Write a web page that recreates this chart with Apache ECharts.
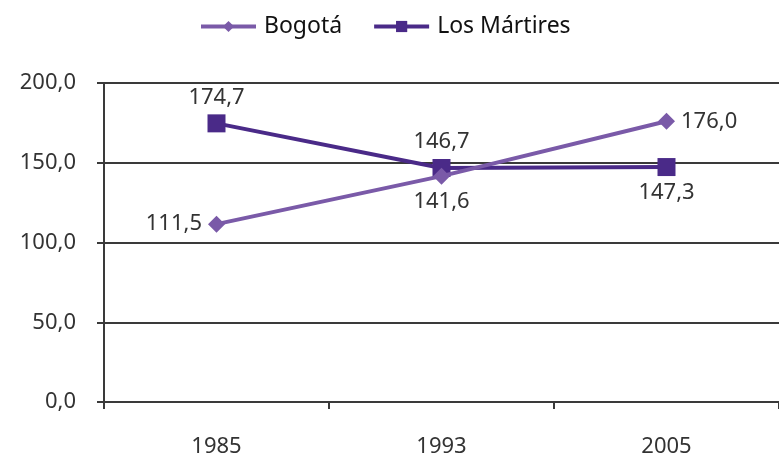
<!DOCTYPE html>
<html><head><meta charset="utf-8">
<script src="https://cdn.jsdelivr.net/npm/echarts@6/dist/echarts.min.js"></script>
<style>html,body{margin:0;padding:0;background:#fff}#c{width:779px;height:461px}</style>
</head><body><div id="c"></div>
<script>
const categories = ['1985', '1993', '2005'];
const bogota = [111.5, 141.6, 176.0];
const martires = [174.7, 146.7, 147.3];
const bogotaLabelPos = ['left', 'bottom', 'right'];
const martiresLabelPos = ['top', 'top', 'bottom'];
const yTicks = [0, 50, 100, 150, 200];

const fmt = v => v.toFixed(1).replace('.', ',');
const font = 'Noto Sans';
const chart = echarts.init(document.getElementById('c'));
chart.setOption({
  backgroundColor: '#fff',
  animation: false,
  legend: {
    top: 10, left: 194, itemWidth: 55, itemHeight: 14, itemGap: 30,
    textStyle: {fontFamily: font, fontSize: 23, color: '#111', padding: [0, 0, 0, 3]},
    lineStyle: {width: 4},
    data: ['Bogotá', 'Los Mártires']
  },
  grid: {left: 104, top: 83, width: 678, height: 319},
  xAxis: {
    type: 'category', data: categories, boundaryGap: true,
    axisLine: {lineStyle: {color: '#3a3a3a', width: 2}},
    axisTick: {show: true, length: 7, lineStyle: {color: '#3a3a3a', width: 2}},
    axisLabel: {fontFamily: font, fontSize: 22, color: '#333', margin: 34}
  },
  yAxis: {
    type: 'value', min: yTicks[0], max: yTicks[yTicks.length - 1], interval: 50,
    axisLine: {show: true, lineStyle: {color: '#3a3a3a', width: 2}},
    axisTick: {show: true, length: 7, lineStyle: {color: '#3a3a3a', width: 2}},
    splitLine: {lineStyle: {color: '#3a3a3a', width: 2}},
    axisLabel: {fontFamily: font, fontSize: 22, color: '#333', margin: 28, formatter: v => fmt(v)}
  },
  series: [
    {
      name: 'Bogotá', type: 'line', symbol: 'diamond', symbolSize: 17,
      color: '#7a5aa8', lineStyle: {width: 4, color: '#7a5aa8'},
      data: bogota.map((v, i) => ({value: v, label: {position: bogotaLabelPos[i]}})),
      label: {show: true, fontFamily: font, fontSize: 22, color: '#333', distance: 6, formatter: p => fmt(p.value)},
      z: 3
    },
    {
      name: 'Los Mártires', type: 'line', symbol: 'rect', symbolSize: 18,
      color: '#4a2a88', lineStyle: {width: 4, color: '#4a2a88'},
      data: martires.map((v, i) => ({value: v, label: {position: martiresLabelPos[i]}})),
      label: {show: true, fontFamily: font, fontSize: 22, color: '#333', distance: 6, formatter: p => fmt(p.value)},
      z: 2
    }
  ]
});
</script></body></html>
